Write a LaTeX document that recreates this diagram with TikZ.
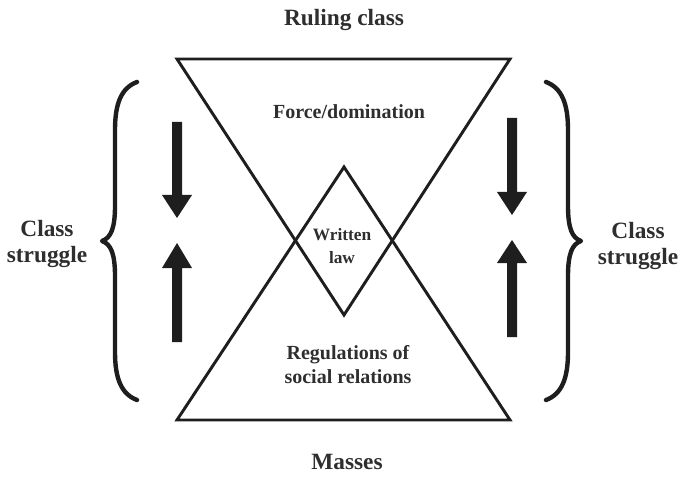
\documentclass[tikz,border=0pt]{standalone}
\usepackage{fontspec}
\setmainfont{Liberation Serif}
\usepackage{tikz}
\usetikzlibrary{positioning}
\definecolor{inkline}{HTML}{1E1E1E}
\definecolor{inktext}{HTML}{2E2E2E}

\begin{document}
\begin{tikzpicture}[x=0.75pt, y=-0.75pt,
		tri/.style={draw=inkline, line width=2.2pt, line join=miter},
		label/.style={text=inktext, font=\bfseries\fontsize{17.5}{20}\selectfont, align=center, inner sep=0},
		inlabel/.style={text=inktext, font=\bfseries\fontsize{15}{18}\selectfont, align=center, inner sep=0},
		blockarrow/.style={fill=inkline},
		bracepen/.style={draw=inkline, line width=3.3pt, line cap=round, line join=round}]
		\useasboundingbox (0,0) rectangle (684,477);
		
		% the two triangles
		\draw[tri] (177,59) -- (510,59) -- (344,315) -- cycle;
		\draw[tri] (177,420) -- (510,420) -- (344,167) -- cycle;
		
		\node at (344,20)[label](ruling){Ruling class};
		\node at (347,462)[label](masses){Masses};
		\node at (349,112)[inlabel](force){Force/domination};
		\node at (342,246)[inlabel, font=\bfseries\fontsize{13}{17}\selectfont](law){Written\\law};
		\node at (348,365)[inlabel, font=\bfseries\fontsize{15}{18}\selectfont](regul){Regulations of\\social relations};
		\node at (47,244)[label, font=\bfseries\fontsize{17.5}{20}\selectfont](lstruggle){Class\\struggle};
		\node at (638,246)[label, font=\bfseries\fontsize{17.5}{20}\selectfont](rstruggle){Class\\struggle};
		
		% braces
		\draw[bracepen] (137,82) .. controls (121,88) and (115,104) .. (115,130) -- (115,206) .. controls (115,228) and (111,238) .. (102,241) .. controls (111,244) and (115,254) .. (115,276) -- (115,352) .. controls (115,378) and (121,394) .. (137,400);
		\draw[bracepen] (546,82) .. controls (562,88) and (568,104) .. (568,130) -- (568,206) .. controls (568,228) and (572,238) .. (581,241) .. controls (572,244) and (568,254) .. (568,276) -- (568,352) .. controls (568,378) and (562,394) .. (546,400);
		
		% arrows
		\fill[blockarrow] (172,122) -- (182,122) -- (182,195) -- (192,195) -- (177,218) -- (162,195) -- (172,195) -- cycle;
		\fill[blockarrow] (172,342) -- (182,342) -- (182,268) -- (192,268) -- (177,243) -- (162,268) -- (172,268) -- cycle;
		\fill[blockarrow] (507,118) -- (517,118) -- (517,192) -- (527,192) -- (512,215) -- (497,192) -- (507,192) -- cycle;
		\fill[blockarrow] (507,337) -- (517,337) -- (517,263) -- (527,263) -- (512,240) -- (497,263) -- (507,263) -- cycle;
	\end{tikzpicture}
\end{document}
